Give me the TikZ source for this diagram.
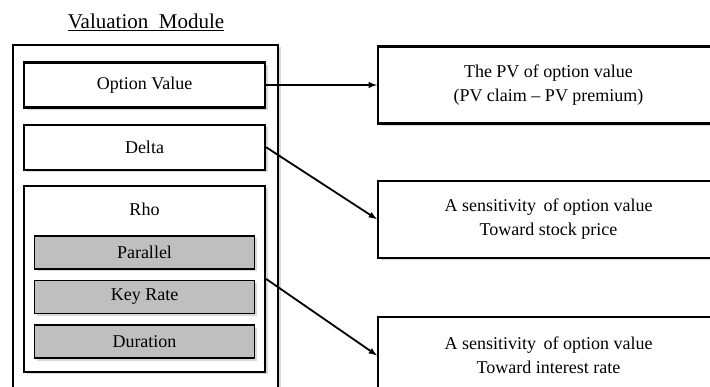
\documentclass[tikz,border=0pt]{standalone}
\usepackage{fontspec}
\setmainfont{Liberation Serif}
\usetikzlibrary{positioning,shadows}
\tikzset{
  box/.style={rectangle,draw,line width=2.2pt,fill=white,
    drop shadow={opacity=0.3,shadow xshift=2.5pt,shadow yshift=-2.5pt},
    font=\fontsize{18}{24}\selectfont,align=center,inner sep=0pt},
  link/.style={->,line width=1.8pt}
}
\newcommand{\valbox}[3]{\node[box,minimum width=241pt,minimum height=45pt](#1)[#2]{#3}}
\newcommand{\rhobox}[3]{\node[box,fill=black!25,line width=1.8pt,minimum width=220pt,minimum height=33pt](#1)[#2]{#3}}
\newcommand{\outbox}[3]{\node[box,minimum width=341pt,minimum height=77pt](#1)[#2]{#3}}

\begin{document}
\begin{tikzpicture}[>=latex,x=1pt,y=-1pt,node distance=10pt]
\useasboundingbox (0,0) rectangle (710,387);
\clip (0,0) rectangle (710,387);

\node(title) at (146,22) {\fontsize{21}{24}\selectfont\underline{Valuation\ \ Module}};
\node[box,minimum width=265pt,minimum height=370pt](module) at (145.5,230) {};

% left column
\valbox{opt}{at={(144.5,85)}}{Option Value};
\valbox{delta}{below=15pt of opt}{Delta};
\node[box,minimum width=241pt,minimum height=186pt](rho)[below=14pt of delta]{};
\node(rholabel)[below=15pt of rho.north,font=\fontsize{18}{24}\selectfont]{Rho};
\rhobox{par}{below=50pt of rho.north}{Parallel};
\rhobox{key}{below=of par}{Key Rate};
\rhobox{dur}{below=of key}{Duration};

% right column
\outbox{pv}{at={(548.5,85)}}{The PV of option value\\(PV claim -- PV premium)};
\outbox{delta_out}{below=55pt of pv}{A sensitivity\, of option value\\Toward stock price};
\outbox{rho_out}{below=57pt of delta_out}{A sensitivity\, of option value\\Toward interest rate};

\draw[link] (opt.east) -- (pv.west);
\draw[link] (delta.east) -- (delta_out.west);
\draw[link] (rho.east) -- (rho_out.west);

\end{tikzpicture}
\end{document}
